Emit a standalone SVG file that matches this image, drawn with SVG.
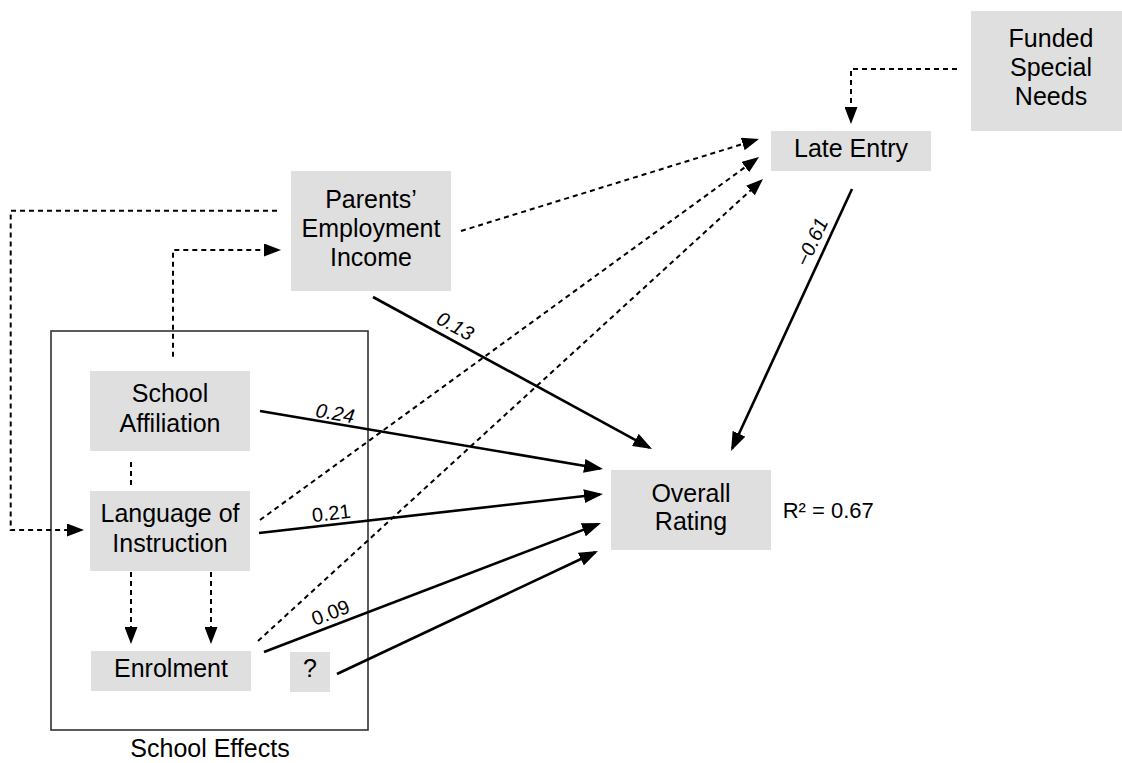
<svg xmlns="http://www.w3.org/2000/svg" width="1122" height="763" viewBox="0 0 1122 763">
<style>
  .node { fill: #dfdfdf; }
  .t { font-family: "Liberation Sans", Arial, sans-serif; font-size: 25px; fill: #000; text-anchor: middle; }
  .lbl { font-family: "Liberation Sans", Arial, sans-serif; font-size: 20px; fill: #000; text-anchor: middle; }
  .it { font-style: italic; }
  .solid { stroke: #000; stroke-width: 2.6; fill: none; marker-end: url(#ah); }
  .dash { stroke: #000; stroke-width: 2; fill: none; stroke-dasharray: 5 4; }
  .da { marker-end: url(#ahd); }
</style>
<defs>
  <marker id="ah" viewBox="0 0 19 14" refX="16" refY="7" markerWidth="19" markerHeight="14" markerUnits="userSpaceOnUse" orient="auto">
    <path d="M0,0 L19,7 L0,14 z" fill="#000"/>
  </marker>
  <marker id="ahd" viewBox="0 0 17 13" refX="14" refY="6.5" markerWidth="17" markerHeight="13" markerUnits="userSpaceOnUse" orient="auto">
    <path d="M0,0 L17,6.5 L0,13 z" fill="#000"/>
  </marker>
</defs>
<rect width="1122" height="763" fill="#fff"/>

<g id="school-effects">
  <rect x="51" y="331" width="317" height="399" fill="none" stroke="#333" stroke-width="1.6"/>
  <text class="t" x="210" y="757">School Effects</text>
</g>

<g id="connectors">
  <polyline class="dash da" points="277,210.7 10.7,210.7 10.7,530 81,530"/>
  <polyline class="dash da" points="173,356.7 173,250 278,250"/>
  <line class="dash" x1="131" y1="462" x2="131" y2="488"/>
  <line class="dash da" x1="131" y1="572" x2="131" y2="641"/>
  <line class="dash da" x1="211" y1="572" x2="211" y2="641"/>
  <line class="dash da" x1="461" y1="231" x2="756.1" y2="139.9"/>
  <line class="dash da" x1="260" y1="520" x2="756.6" y2="158.8"/>
  <line class="dash da" x1="258" y1="641" x2="760.8" y2="181"/>
  <polyline class="dash da" points="957,69 851,69 851,121"/>

  <line class="solid" x1="373" y1="297" x2="649.4" y2="447.6"/>
  <line class="solid" x1="260" y1="411" x2="600" y2="468.5"/>
  <line class="solid" x1="259" y1="533" x2="600" y2="494.3"/>
  <line class="solid" x1="264" y1="652" x2="598.2" y2="524.1"/>
  <line class="solid" x1="337" y1="674" x2="595.3" y2="552.3"/>
  <line class="solid" x1="852" y1="189" x2="732.3" y2="448.3"/>

  <text class="lbl it" transform="translate(452,332) rotate(28.6)">0.13</text>
  <text class="lbl it" transform="translate(334,420) rotate(9.6)">0.24</text>
  <text class="lbl" transform="translate(332,520) rotate(-6.5)">0.21</text>
  <text class="lbl" transform="translate(333,619) rotate(-21)">0.09</text>
  <text class="lbl it" transform="translate(818,245) rotate(-65.3)">−0.61</text>
</g>

<g id="parents">
  <rect class="node" x="291" y="171" width="160" height="120"/>
  <text class="t" x="371" y="207.7">Parents’</text>
  <text class="t" x="371" y="236.7">Employment</text>
  <text class="t" x="371" y="266">Income</text>
</g>

<g id="affiliation">
  <rect class="node" x="90" y="371" width="160" height="80"/>
  <text class="t" x="170" y="402.3">School</text>
  <text class="t" x="170" y="431.7">Affiliation</text>
</g>

<g id="language">
  <rect class="node" x="90" y="491" width="160" height="80"/>
  <text class="t" x="170" y="521.7">Language of</text>
  <text class="t" x="170" y="551.7">Instruction</text>
</g>

<g id="enrolment">
  <rect class="node" x="91" y="651" width="160" height="40"/>
  <text class="t" x="171" y="676.7">Enrolment</text>
</g>

<g id="unknown">
  <rect class="node" x="290" y="652" width="40" height="40"/>
  <text class="t" x="310" y="677">?</text>
</g>

<g id="overall">
  <rect class="node" x="611" y="470" width="160" height="80"/>
  <text class="t" x="691" y="501.7">Overall</text>
  <text class="t" x="691" y="530">Rating</text>
  <text class="lbl" x="782.7" y="518" style="text-anchor:start;font-size:22px">R² = 0.67</text>
</g>

<g id="late-entry">
  <rect class="node" x="771" y="131" width="160" height="40"/>
  <text class="t" x="851" y="156.7">Late Entry</text>
</g>

<g id="funded">
  <rect class="node" x="971" y="11" width="160" height="120"/>
  <text class="t" x="1051" y="46.7">Funded</text>
  <text class="t" x="1051" y="76">Special</text>
  <text class="t" x="1051" y="105">Needs</text>
</g>
</svg>
